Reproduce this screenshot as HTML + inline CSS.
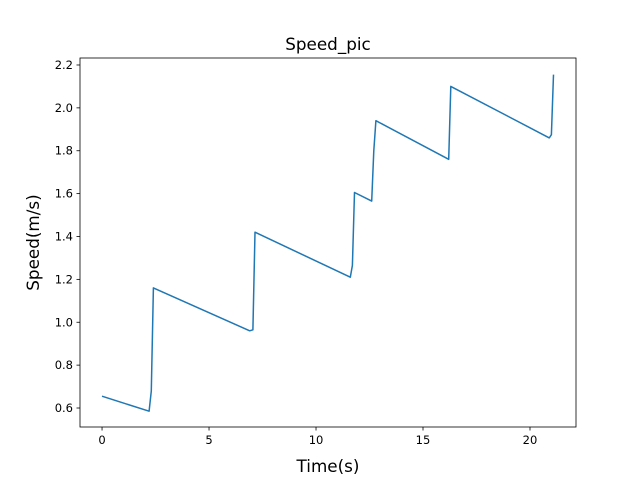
<!DOCTYPE html>
<html><head><meta charset="utf-8"><style>
body{margin:0;background:#fff;font-family:"DejaVu Sans","Liberation Sans",sans-serif;}
svg text{font-family:"DejaVu Sans","Liberation Sans",sans-serif;}
</style></head><body>
<svg id="chart" width="640" height="480" xmlns="http://www.w3.org/2000/svg">
<rect width="640" height="480" fill="#fff"/>
<text x="328" y="50" font-size="16.8" text-anchor="middle">Speed_pic</text>
<text x="328" y="472" font-size="16.8" text-anchor="middle">Time(s)</text>
<text x="0" y="0" font-size="16.8" text-anchor="middle" transform="translate(39,242.5) rotate(-90)">Speed(m/s)</text>
<g id="ticks"></g>
<path id="line" fill="none" stroke="#1f77b4" stroke-width="1.5" stroke-linejoin="round"/>
<rect x="80" y="58" width="496" height="369" fill="none" stroke="#000" stroke-width="0.8"/>
</svg>
<script>
const times=[0,2.2,2.3,2.4,6.9,7.05,7.15,11.6,11.7,11.8,12.6,12.7,12.8,16.2,16.3,20.9,21.0,21.1];
const speeds=[0.655,0.585,0.68,1.16,0.96,0.965,1.42,1.21,1.265,1.605,1.565,1.80,1.94,1.76,2.10,1.86,1.875,2.155];
const xTicks=[0,5,10,15,20];
const yTicks=[0.6,0.8,1.0,1.2,1.4,1.6,1.8,2.0,2.2];
const X0=80,X1=576,Y0=427,Y1=58,xmin=-1.03,xmax=22.15,ymin=0.5114,ymax=2.2326;
function sx(v){return X0+(v-xmin)/(xmax-xmin)*(X1-X0);}
function sy(v){return Y0-(v-ymin)/(ymax-ymin)*(Y0-Y1);}
const ns="http://www.w3.org/2000/svg",g=document.getElementById('ticks');
xTicks.forEach(t=>{
 const l=document.createElementNS(ns,'line');
 
 
 l.setAttribute('x1',sx(t));l.setAttribute('x2',sx(t));l.setAttribute('y1',Y0);l.setAttribute('y2',Y0+3.5);l.setAttribute('stroke','#000');l.setAttribute('stroke-width','0.8');g.appendChild(l);
 const tx=document.createElementNS(ns,'text');
 
 
 tx.setAttribute('x',sx(t));tx.setAttribute('y',Y0+17);tx.setAttribute('font-size','11.5');tx.setAttribute('text-anchor','middle');tx.textContent=t;g.appendChild(tx);
});
yTicks.forEach(t=>{
 const l=document.createElementNS(ns,'line');
 
 
 l.setAttribute('x1',X0-3.5);l.setAttribute('x2',X0);l.setAttribute('y1',sy(t));l.setAttribute('y2',sy(t));l.setAttribute('stroke','#000');l.setAttribute('stroke-width','0.8');g.appendChild(l);
 const tx=document.createElementNS(ns,'text');
 
 
 tx.setAttribute('x',X0-7);tx.setAttribute('y',sy(t)+4);tx.setAttribute('font-size','11.5');tx.setAttribute('text-anchor','end');tx.textContent=t.toFixed(1);g.appendChild(tx);
});
document.getElementById('line').setAttribute('d',times.map((t,i)=>(i?'L':'M')+sx(t).toFixed(1)+','+sy(speeds[i]).toFixed(1)).join(' '));
</script>
</body></html>
